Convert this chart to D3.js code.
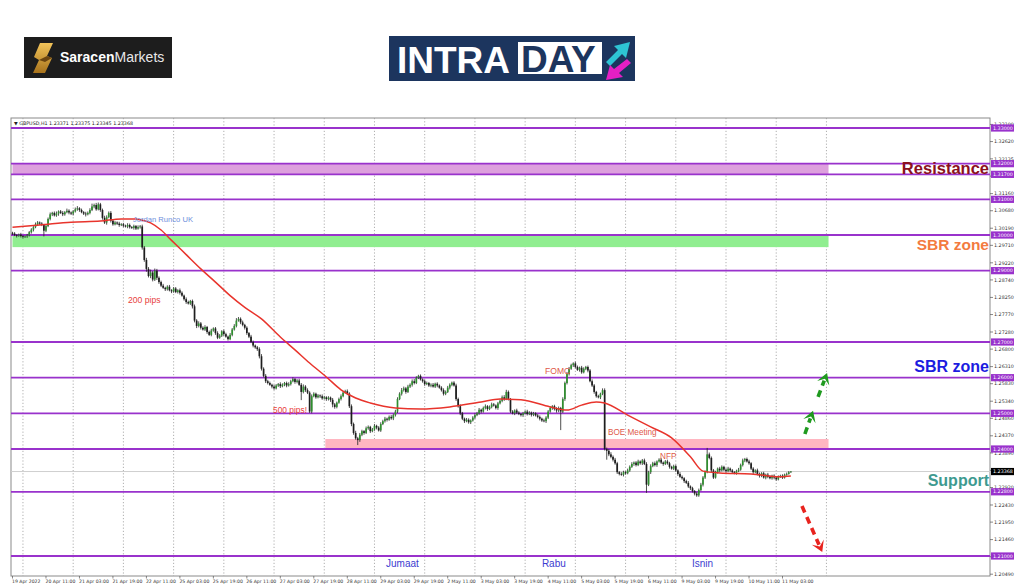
<!DOCTYPE html>
<html><head><meta charset="utf-8">
<script src="https://cdn.jsdelivr.net/npm/d3@7"></script>
<style>body{margin:0;background:#fff}svg{display:block}</style>
</head><body>
<svg id="c" width="1024" height="587"></svg>
<script>
// ---- DATA (prices in 1/10000 above 1.0000, e.g. 3004 = 1.3004) ----
const firstOpen = 3006;
const closes = [
3004,3000,2998,3001,2997,2995,2996,2999,3008,3015,3022,3030,3035,
3032,3028,3012,3025,3045,
3058,3062,3055,3060,3066,3062,3058,3064,3068,3063,3060,
3066,3072,3075,3070,3064,3060,3058,3062,
3070,3080,3084,3072,3086,3070,
3048,3035,3050,3062,3040,3030,
3035,3032,3028,3030,3026,3024,3028,3022,3020,3025,3018,3022,3024,
2965,2930,2905,2885,2895,2875,2900,2880,2868,
2858,2852,2848,2855,2845,2842,2850,
2840,2845,2838,2830,2820,2812,2808,2815,2800,
2760,2745,2752,2740,
2735,2742,2728,2720,2732,2738,2725,2712,2718,2730,2722,2715,2708,2720,2735,2745,
2760,2765,2755,2748,2740,
2725,2715,2700,2690,2685,2680,
2660,2625,2605,2590,2585,
2580,2575,2570,2578,2582,2576,2580,2585,2578,2582,
2590,2596,2588,2592,2580,
2560,2575,2565,2558,2505,2548,2555,
2545,2550,2548,2542,2545,2540,2544,2538,2525,2518,2530,2540,2548,2558,
2562,2555,2520,
2470,2445,2430,2425,2440,
2450,2445,2458,2462,2450,2455,2465,2460,2452,2470,
2478,2485,2482,2490,2486,2495,2505,
2540,2555,2565,2570,2560,2575,2580,2590,2585,2600,2605,
2595,2590,2582,2585,2578,2580,2575,2583,2578,2572,2565,2555,
2560,2572,2580,2586,2578,
2540,2520,2500,
2485,2478,2482,2475,2480,2488,2495,
2500,2510,2505,2515,2520,2512,2518,2525,2522,2515,2528,
2535,2545,2540,2560,2540,
2505,2500,2508,2502,2498,2495,2500,2505,2498,2502,2496,2500,2494,2490,
2485,2480,2478,2488,
2505,2515,2520,2512,2508,2515,2505,
2540,2585,2610,
2625,2635,2640,2630,2622,2628,2615,2625,2630,2620,
2590,2578,2560,2548,2545,2555,2565,
2400,2395,2385,2378,2370,2360,
2335,2330,2328,2335,2332,2340,
2350,2358,2362,2355,2365,2360,2368,2358,
2300,2335,2352,
2360,2355,2365,2370,2362,2358,2365,2360,2350,2345,2352,
2340,2330,2322,2318,2310,2305,2295,2290,2282,2275,2270,
2285,2300,2320,2335,
2385,2375,2340,2320,
2335,2345,2340,2350,2342,2338,2345,2340,2335,2332,2338,2342,
2355,2368,2372,2365,2360,
2345,2335,2340,2330,2325,2332,2320,2328,2322,2318,2325,2320,2315,2322,
2325,2320,2328,2330,2335,2337];
const hiWick = [
3,4,2,3,5,3,2,4,3,4,3,5,4,
3,4,3,5,4,
5,3,4,6,3,4,5,3,6,4,3,
4,5,6,3,4,3,5,4,
5,8,4,6,5,4,
4,6,5,4,5,3,
4,3,5,3,4,3,5,4,3,4,3,5,4,
5,4,6,5,8,4,6,5,4,
4,5,3,4,5,3,4,
4,3,5,4,3,5,4,3,4,
5,4,6,4,
4,5,3,4,5,3,4,5,4,3,5,4,3,5,4,5,
7,5,4,5,3,
4,3,5,4,3,4,
5,6,4,5,4,
4,3,5,4,3,5,4,3,4,5,
4,5,3,4,5,
5,6,4,5,4,5,4,
3,4,3,5,4,3,4,3,5,4,3,4,5,4,
4,5,4,
5,4,6,4,5,
4,3,5,4,3,4,5,3,4,5,
4,5,3,4,5,4,5,
5,4,6,5,4,5,4,5,6,4,3,
4,3,5,4,3,4,5,3,4,3,4,5,
4,5,4,3,4,
5,4,5,
4,3,5,4,3,4,5,
4,5,3,4,5,3,4,5,4,3,4,
4,5,6,6,4,
3,4,3,5,4,3,4,3,5,4,3,4,3,4,
4,3,5,4,
4,5,3,4,5,4,3,
5,4,6,
5,4,3,5,4,3,5,4,3,4,
4,5,4,3,4,3,5,
5,4,5,6,4,5,
4,3,5,4,3,5,
4,5,3,4,5,3,4,5,
5,4,5,
4,5,3,4,5,3,4,5,4,3,4,
4,3,5,4,3,4,5,3,4,3,4,
4,5,4,5,
18,5,4,4,
4,3,5,4,3,4,5,3,4,3,4,5,
4,5,3,4,5,
3,4,3,5,4,3,4,3,5,4,3,4,3,4,
3,4,3,4,3,1];
const loWick = [
4,3,5,3,4,5,3,4,3,4,5,3,4,
4,3,16,4,3,
4,5,3,4,6,3,5,4,3,5,4,
5,3,4,5,3,4,6,3,
4,3,5,4,3,5,
5,4,6,3,5,4,
3,4,5,3,4,3,5,4,3,5,4,3,4,
6,5,8,4,6,5,4,6,5,
4,3,5,4,3,5,4,
3,4,5,3,4,5,3,4,6,
5,6,4,5,
3,4,5,3,4,3,5,4,3,4,5,3,4,3,4,3,
4,3,5,4,5,
5,4,3,5,4,5,
6,5,4,5,4,
3,5,4,3,4,5,3,4,5,3,
4,3,5,4,3,
23,4,5,4,4,5,3,
4,3,5,4,3,5,4,6,8,5,4,3,4,3,
3,4,5,
6,5,4,14,5,
4,5,3,4,5,3,4,5,3,4,
3,4,5,3,4,5,4,
4,3,5,4,5,3,4,5,4,3,4,
3,4,5,3,4,5,3,4,5,3,4,5,
4,3,5,4,3,
5,4,5,
4,5,3,4,5,3,4,
3,4,5,3,4,5,3,4,3,4,5,
3,4,5,3,4,
4,3,5,4,3,4,5,3,4,3,5,4,3,4,
5,4,3,5,
4,3,5,4,6,5,52,
4,5,4,
4,3,5,4,3,5,4,3,4,5,
3,4,5,4,3,5,4,
4,25,5,4,5,4,
5,4,3,5,4,3,
4,3,5,4,3,4,5,3,
23,4,5,
3,4,5,3,4,5,3,4,5,3,4,
4,5,3,4,5,3,4,5,4,5,4,
4,3,5,4,
3,4,5,4,
3,4,5,3,4,5,3,4,5,3,4,3,
3,4,5,3,4,
4,5,3,4,5,4,3,5,4,3,4,5,4,3,
3,4,3,3,2,2];
// moving average (red line), read at selected bars
const maBars   = [0,13,28,42,52,59,61,66,71,76,83,90,97,104,111,119,128,135,142,150,157,164,171,183,195,209,224,233,243,257,265,272,279,283,294,305,315,324,330,338,353,367,372];
const maValues = [3022,3028,3036,3039,3045,3045,3043,3034,3014,2985,2945,2905,2868,2830,2797,2765,2714,2678,2641,2602,2566,2543,2529,2515,2512,2518,2532,2540,2538,2518,2509,2523,2532,2529,2495,2462,2431,2378,2338,2333,2330,2322,2324];
const levels      = [3300,3200,3170,3100,3000,2900,2700,2600,2500,2400,2280,2100];
const levelLabels = ["1.33000","1.32000","1.31700","1.31000","1.30000","1.29000","1.27000","1.26000","1.25000","1.24000","1.22800","1.21000"];
const priceTicks = ["1.33100","1.32620","1.32135","1.31650","1.31160","1.30680","1.30190","1.29710","1.29220","1.28740","1.28250","1.27770","1.27280","1.26800","1.26310","1.25830","1.25340","1.24860","1.24370","1.23890","1.23400","1.22920","1.22430","1.21950","1.21460","1.20980","1.20490"];
const timeLabels = ["19 Apr 2022","20 Apr 11:00","21 Apr 03:00","21 Apr 19:00","22 Apr 11:00","25 Apr 03:00","25 Apr 19:00","26 Apr 11:00","27 Apr 03:00","27 Apr 19:00","28 Apr 11:00","29 Apr 03:00","29 Apr 19:00","2 May 11:00","3 May 03:00","3 May 19:00","4 May 11:00","5 May 03:00","5 May 19:00","6 May 11:00","9 May 03:00","9 May 19:00","10 May 11:00","11 May 03:00"];
const bidPrice = 2336.8, bidLabel = "1.23368";
const zones = [
  {from:0, to:390, top:3200, bot:3170, color:"#dda0dd"},
  {from:0, to:390, top:3000, bot:2966, color:"#90ee90"},
  {from:149.5, to:390, top:2428, bot:2400, color:"#ffb6c1"}];
const notes = [
  {t:"Jordan Runco UK", b:57.6, p:3036, c:"#6f8fdc", s:7.6},
  {t:"200 pips", b:55.2, p:2809, c:"#e8413c", s:8.6},
  {t:"500 pips!", b:124.5, p:2501, c:"#e8413c", s:8.4},
  {t:"FOMC", b:254.5, p:2610, c:"#e05a4a", s:8.6},
  {t:"BOE Meeting", b:284.6, p:2439, c:"#e05a4a", s:8.2},
  {t:"NFP", b:309.5, p:2372, c:"#e05a4a", s:8.2}];
const dayNotes = [{t:"Jumaat", b:178.5},{t:"Rabu", b:253},{t:"Isnin", b:324.7}];
const sideNotes = [
  {t:"Resistance", p:3171, c:"#8b1020", s:16.5},
  {t:"SBR zone", p:2958, c:"#f37b3f", s:15.5},
  {t:"SBR zone", p:2616, c:"#1c1ce0", s:16},
  {t:"Support", p:2295, c:"#3e9a90", s:16}];
const arrows = [
  {b1:378.7,p1:2442,b2:382.6,p2:2507,c:"#1f9a1f"},
  {b1:385,p1:2546,b2:389.3,p2:2613,c:"#1f9a1f"},
  {b1:377.3,p1:2240,b2:387,p2:2111,c:"#e8231e"}];

// ---- DRAWING ----
const svg = d3.select('#c');
const L=11,R=990,T=118,B=576;
const x = d3.scaleLinear().domain([0,368]).range([12.5,782.5]);
const y = d3.scaleLinear().domain([2100,3300]).range([556,128]);
const px = s => (parseFloat(s)-1)*10000;
const FONT = "Liberation Sans, Arial, sans-serif";

// header logos
const defs = svg.append('defs');
const g1 = defs.append('linearGradient').attr('id','gold').attr('x1',0).attr('y1',0).attr('x2',0).attr('y2',1);
g1.append('stop').attr('offset','0%').attr('stop-color','#f2c45a');
g1.append('stop').attr('offset','100%').attr('stop-color','#a8731c');
svg.append('rect').attr('x',24).attr('y',37).attr('width',148).attr('height',41).attr('fill','#1d1d1d');
svg.append('path').attr('d','M40,43 L53,43 L47,56 L52,58 L45,73 L33,73 L39,60 L34,57 Z').attr('fill','url(#gold)');
svg.append('path').attr('d','M39,60 L47,56 L52,58 L45,62 Z').attr('fill','#6b4510');
const st = svg.append('text').attr('x',60).attr('y',62).attr('font-family',FONT).attr('font-size',14).attr('fill','#fff');
st.append('tspan').attr('font-weight','bold').text('Saracen');
st.append('tspan').attr('fill','#e8e8e8').text('Markets');

svg.append('rect').attr('x',389).attr('y',36).attr('width',246).attr('height',45).attr('fill','#1c355e');
svg.append('text').attr('x',397).attr('y',73).attr('font-family',FONT).attr('font-weight','bold').attr('font-size',37).attr('fill','#fff').text('INTRA');
svg.append('rect').attr('x',518).attr('y',42).attr('width',84).attr('height',32).attr('fill','#fff');
svg.append('text').attr('x',521).attr('y',72).attr('font-family',FONT).attr('font-weight','bold').attr('font-size',37).attr('fill','#1c355e').text('DAY');
svg.append('path').attr('d','M606,62 L618,50 L614,46 L630,42 L626,58 L622,54 L610,66 Z').attr('fill','#2ec4d4');
svg.append('path').attr('d','M631,63 L619,73 L623,77 L606,80 L610,65 L614,69 L627,59 Z').attr('fill','#e41fc4');

// chart frame
svg.append('rect').attr('x',L).attr('y',T).attr('width',R-L).attr('height',B-T).attr('fill','#fff').attr('stroke','#8a8a8a').attr('stroke-width',1);

// vertical dotted grid (only over the drawn history, not the right-hand shift area)
const gridBars = d3.range(5, 392, 24);
svg.append('g').selectAll('line').data(gridBars).join('line')
  .attr('x1',d=>x(d)).attr('x2',d=>x(d)).attr('y1',T).attr('y2',B)
  .attr('stroke','#9a9a9a').attr('stroke-width',0.8).attr('stroke-dasharray','1.2,2');

// zones
svg.append('g').selectAll('rect').data(zones).join('rect')
  .attr('x',d=>x(d.from)).attr('width',d=>x(d.to)-x(d.from))
  .attr('y',d=>y(d.top)).attr('height',d=>y(d.bot)-y(d.top)).attr('fill',d=>d.color);

// level lines
svg.append('g').selectAll('line').data(levels).join('line')
  .attr('x1',L).attr('x2',R).attr('y1',d=>y(d)).attr('y2',d=>y(d))
  .attr('stroke','#9932cc').attr('stroke-width',1.8);

// bid line
svg.append('line').attr('x1',L).attr('x2',R).attr('y1',y(bidPrice)).attr('y2',y(bidPrice)).attr('stroke','#cfcfcf').attr('stroke-width',1);

// candles
const bars = closes.map((c,i)=>{const o = i ? closes[i-1] : firstOpen; return {i,o,c,h:Math.max(o,c)+hiWick[i],l:Math.min(o,c)-loWick[i]};});
const cg = svg.append('g');
cg.selectAll('line').data(bars).join('line')
  .attr('x1',d=>x(d.i)).attr('x2',d=>x(d.i)).attr('y1',d=>y(d.h)).attr('y2',d=>y(d.l))
  .attr('stroke','#222').attr('stroke-width',0.8);
cg.selectAll('rect').data(bars).join('rect')
  .attr('x',d=>x(d.i)-0.85).attr('width',1.7)
  .attr('y',d=>y(Math.max(d.o,d.c))).attr('height',d=>Math.max(0.8,Math.abs(y(d.o)-y(d.c))))
  .attr('fill',d=>d.c>=d.o?'#2f8f2f':'#1e1e1e');

// moving average
const ma = maBars.map((b,k)=>[b,maValues[k]]);
svg.append('path').datum(ma).attr('fill','none').attr('stroke','#e8342c').attr('stroke-width',1.5)
  .attr('d', d3.line().x(d=>x(d[0])).y(d=>y(d[1])).curve(d3.curveMonotoneX));

// notes
svg.append('g').selectAll('text').data(notes).join('text')
  .attr('x',d=>x(d.b)).attr('y',d=>y(d.p)).attr('font-family',FONT).attr('font-size',d=>d.s)
  .attr('fill',d=>d.c).text(d=>d.t);
svg.append('g').selectAll('text').data(dayNotes).join('text')
  .attr('x',d=>x(d.b)).attr('y',567).attr('font-family',FONT).attr('font-size',10)
  .attr('fill','#3c3cd0').text(d=>d.t);

// arrows
arrows.forEach(a=>{
  const x1=x(a.b1),y1=y(a.p1),x2=x(a.b2),y2=y(a.p2);
  const dx=x2-x1,dy=y2-y1,len=Math.hypot(dx,dy),ux=dx/len,uy=dy/len;
  const hl=11,hw=6.5,bx=x2-ux*hl,by=y2-uy*hl,nx=-uy,ny=ux;
  svg.append('line').attr('x1',x1).attr('y1',y1).attr('x2',bx+ux*3).attr('y2',by+uy*3)
    .attr('stroke',a.c).attr('stroke-width',3.6).attr('stroke-dasharray','7,5');
  const nxp=x2-ux*hl*0.55, nyp=y2-uy*hl*0.55;
  svg.append('path').attr('d',`M${x2},${y2}L${bx+nx*hw},${by+ny*hw}L${nxp},${nyp}L${bx-nx*hw},${by-ny*hw}Z`).attr('fill',a.c);
});

// side notes
svg.append('g').selectAll('text').data(sideNotes).join('text')
  .attr('x',989).attr('y',d=>y(d.p)).attr('text-anchor','end').attr('font-family',FONT)
  .attr('font-weight','bold').attr('font-size',d=>d.s).attr('fill',d=>d.c).text(d=>d.t);

// right axis
const ax = svg.append('g').attr('font-family','DejaVu Sans, sans-serif').attr('font-size',4.8);
ax.selectAll('line').data(priceTicks).join('line')
  .attr('x1',R).attr('x2',R+3).attr('y1',d=>y(px(d))).attr('y2',d=>y(px(d))).attr('stroke','#555').attr('stroke-width',0.7);
ax.selectAll('text').data(priceTicks).join('text')
  .attr('x',R+4).attr('y',d=>y(px(d))).attr('dy','0.35em').attr('fill','#333').text(d=>d);
const lv = svg.append('g').attr('font-family','DejaVu Sans, sans-serif').attr('font-size',4.8);
levels.forEach((v,k)=>{
  lv.append('rect').attr('x',R+1).attr('y',y(v)-3.6).attr('width',23).attr('height',7.2).attr('fill','#9932cc');
  lv.append('text').attr('x',R+3).attr('y',y(v)).attr('dy','0.35em').attr('fill','#fff').text(levelLabels[k]);
});
lv.append('rect').attr('x',R+1).attr('y',y(bidPrice)-3.6).attr('width',23).attr('height',7.2).attr('fill','#000');
lv.append('text').attr('x',R+3).attr('y',y(bidPrice)).attr('dy','0.35em').attr('fill','#fff').text(bidLabel);

// bottom axis
const bx = svg.append('g').attr('font-family','DejaVu Sans, sans-serif').attr('font-size',4.6).attr('fill','#333');
timeLabels.forEach((t,k)=>{
  const xx = x(k*16);
  bx.append('line').attr('x1',xx).attr('x2',xx).attr('y1',B).attr('y2',B+2.5).attr('stroke','#555').attr('stroke-width',0.7);
  bx.append('text').attr('x',xx-0.5).attr('y',583).text(t);
});

// top-left symbol label
svg.append('text').attr('x',14).attr('y',125).attr('font-family','DejaVu Sans, sans-serif').attr('font-size',4.8)
  .attr('fill','#222').text('\u25BC GBPUSD,H1  1.23371 1.23375 1.23345 1.23368');
</script>
</body></html>
